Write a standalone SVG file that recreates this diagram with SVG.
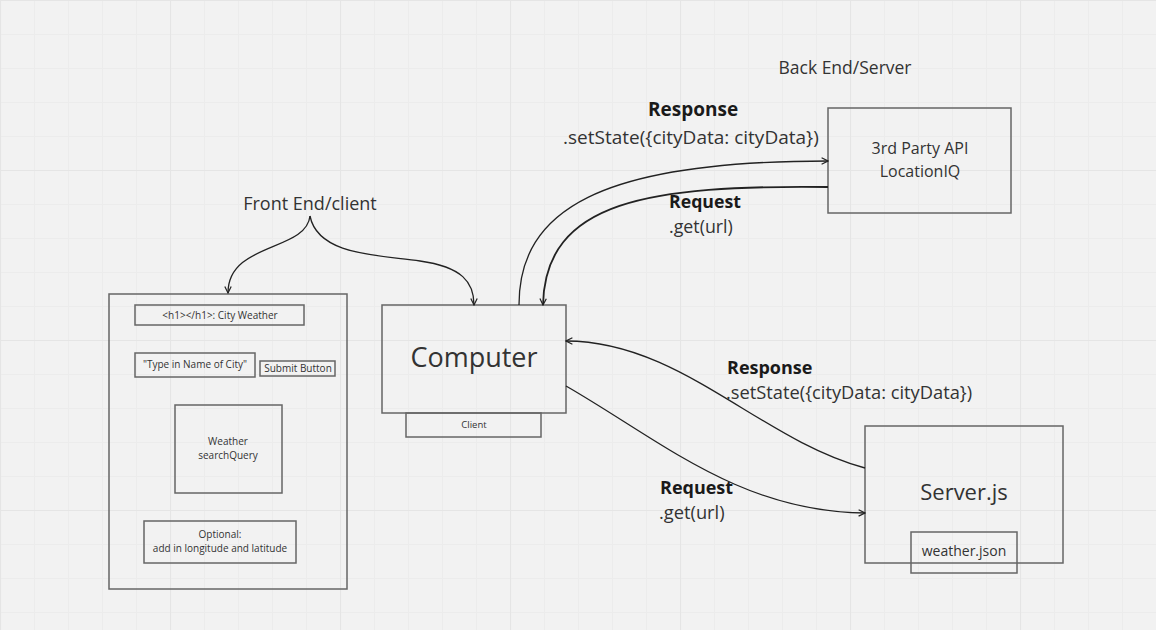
<svg xmlns="http://www.w3.org/2000/svg" width="1156" height="630" viewBox="0 0 1156 630">
<defs>
<pattern id="minor" width="34" height="34" patternUnits="userSpaceOnUse">
<path d="M0,0.5 H34 M0.5,0 V34" fill="none" stroke="#ececec" stroke-width="1"/>
</pattern>
<pattern id="major" width="170" height="170" patternUnits="userSpaceOnUse">
<path d="M0,0.5 H170 M0.5,0 V170" fill="none" stroke="#e5e5e5" stroke-width="1.2"/>
</pattern>
<marker id="arr" viewBox="0 0 10 10" refX="9" refY="5" markerWidth="8" markerHeight="8" markerUnits="userSpaceOnUse" orient="auto">
<path d="M1,1 L9,5 L1,9" fill="none" stroke="#222" stroke-width="1.5"/>
</marker>
<style>
.box{fill:none;stroke:#666;stroke-width:1.5}
.t{font-family:"Open Sans","Noto Sans","DejaVu Sans",sans-serif;fill:#333;text-anchor:middle}
.l{font-family:"Open Sans","Noto Sans","DejaVu Sans",sans-serif;fill:#333}
.b{font-family:"Open Sans","Noto Sans","DejaVu Sans",sans-serif;fill:#1a1a1a;font-weight:bold}
.c{fill:none;stroke:#222;stroke-width:1.3}
</style>
</defs>
<rect width="1156" height="630" fill="#f2f2f2"/>
<rect width="1156" height="630" fill="url(#minor)"/>
<rect width="1156" height="630" fill="url(#major)"/>

<g id="frontend-label"><text class="t" x="310" y="210" font-size="18">Front End/client</text></g>
<g id="backend-label"><text class="t" x="845" y="74" font-size="17.5">Back End/Server</text></g>

<g id="frontend">
<rect class="box" x="109" y="294" width="238" height="295"/>
</g>
<g id="h1">
<rect class="box" x="135" y="305" width="169" height="20"/>
<text class="t" x="220" y="319" font-size="10">&lt;h1&gt;&lt;/h1&gt;: City Weather</text>
</g>
<g id="input">
<rect class="box" x="135" y="353" width="120" height="24"/>
<text class="t" x="195" y="368" font-size="10">"Type in Name of City"</text>
</g>
<g id="submit">
<rect class="box" x="260" y="361" width="75" height="15"/>
<text class="t" x="298" y="372" font-size="10">Submit Button</text>
</g>
<g id="weather">
<rect class="box" x="175" y="405" width="107" height="88"/>
<text class="t" x="228" y="445" font-size="10">Weather</text>
<text class="t" x="228" y="459" font-size="10">searchQuery</text>
</g>
<g id="optional">
<rect class="box" x="144" y="521" width="152" height="42"/>
<text class="t" x="220" y="538" font-size="10">Optional:</text>
<text class="t" x="220" y="552" font-size="10">add in longitude and latitude</text>
</g>

<g id="computer">
<rect class="box" x="382" y="305" width="184" height="108"/>
<text class="t" x="474" y="367" font-size="27">Computer</text>
</g>
<g id="client">
<rect class="box" x="406" y="413" width="135" height="24"/>
<text class="t" x="474" y="428" font-size="9.5">Client</text>
</g>

<g id="api">
<rect class="box" x="828" y="108" width="183" height="105"/>
<text class="t" x="920" y="154" font-size="16">3rd Party API</text>
<text class="t" x="920" y="177" font-size="16">LocationIQ</text>
</g>

<g id="server">
<rect class="box" x="865" y="426" width="198" height="137"/>
<text class="t" x="964" y="500" font-size="22">Server.js</text>
</g>
<g id="weatherjson">
<rect class="box" x="911" y="532" width="106" height="41"/>
<text class="t" x="964" y="556" font-size="14">weather.json</text>
</g>

<g id="connectors">
<path class="c" d="M310,216 C306,252 228,242 228,293" marker-end="url(#arr)"/>
<path class="c" d="M310,216 C318,256 380,255 420,261 C462,267 474,282 474,305" marker-end="url(#arr)"/>
<path class="c" d="M519,305 C519,210 600,161 828,161" marker-end="url(#arr)"/>
<path class="c" style="stroke-width:1.8" d="M828,187 C650,185 545,200 543,305" marker-end="url(#arr)"/>
<path class="c" d="M865,468 C760,440 680,341 566,341" marker-end="url(#arr)"/>
<path class="c" d="M566,386 C660,440 740,512 865,513" marker-end="url(#arr)"/>
</g>

<g id="labels">
<text class="b" x="648" y="116" font-size="19">Response</text>
<text class="l" x="563" y="144" font-size="19">.setState({cityData: cityData})</text>
<text class="b" x="669" y="208" font-size="17.7">Request</text>
<text class="l" x="669" y="233" font-size="17.8">.get(url)</text>
<text class="b" x="727" y="374" font-size="18">Response</text>
<text class="l" x="726" y="399" font-size="18.3">.setState({cityData: cityData})</text>
<text class="b" x="660" y="494" font-size="18">Request</text>
<text class="l" x="659" y="519" font-size="18.3">.get(url)</text>
</g>
</svg>
